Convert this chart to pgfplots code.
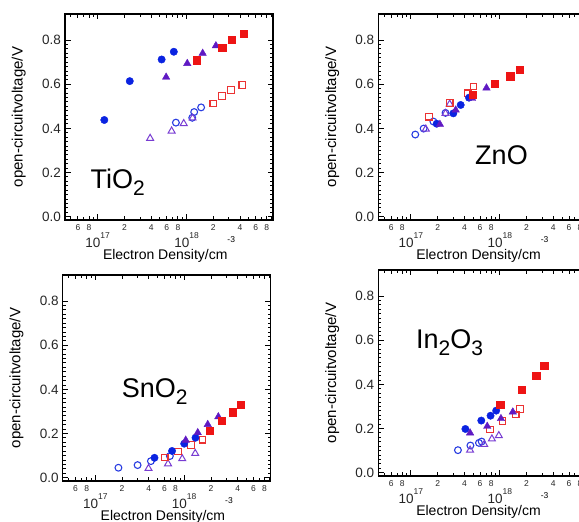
\documentclass[border=0pt]{standalone}
\usepackage{fontspec}
\setmainfont{Liberation Sans}
\usepackage{pgfplots}
\pgfplotsset{compat=1.18}
\definecolor{cBlue}{RGB}{10,35,225}
\definecolor{cBlueO}{RGB}{40,60,225}
\definecolor{cPur}{RGB}{95,25,195}
\definecolor{cPurO}{RGB}{120,60,210}
\definecolor{cRed}{RGB}{238,20,20}
\definecolor{cRedO}{RGB}{235,50,50}
\newcommand\decl[1]{10\raisebox{9pt}{\fontsize{8.5}{8.5}\selectfont #1}}
\newcommand\subs[1]{\raisebox{-7pt}{\fontsize{21}{21}\selectfont #1}}
\tikzset{mybigtext/.style={anchor=base west, font=\fontsize{27}{27}\selectfont, text=black}}
\pgfplotsset{
  scale only axis, width=208pt, height=206pt,
  xmin=4.3e16, xmax=9.4e18, ymin=-0.015, ymax=0.918,
  xtick={1e17,1e18}, xticklabels={\decl{17},\decl{18}},
  minor xtick={5e16,6e16,7e16,8e16,9e16,2e17,3e17,4e17,5e17,6e17,7e17,8e17,9e17,2e18,3e18,4e18,5e18,6e18,7e18,8e18,9e18},
  extra x ticks={6e16,8e16,2e17,4e17,6e17,8e17,2e18,4e18,6e18,8e18},
  extra x tick labels={6,8,2,4,6,8,2,4,6,8},
  extra x tick style={major tick length=4pt, xticklabel style={yshift=17pt, font=\fontsize{8.5}{8.5}\selectfont}},
  ytick={0,0.2,0.4,0.6,0.8}, yticklabels={0.0,0.2,0.4,0.6,0.8},
  minor y tick num=9,
  tick align=inside,
  major tick length=5.5pt, minor tick length=3pt,
  axis line style={line width=1.5pt},
  every tick/.append style={black, line width=0.9pt},
  tick label style={text=black!85},
  yticklabel style={font=\fontsize{13.5}{13.5}\selectfont, anchor=east, inner sep=0pt, xshift=-4pt},
  xticklabel style={font=\fontsize{13.5}{13.5}\selectfont, anchor=base, yshift=-28pt},
  xlabel={Electron Density/cm\raisebox{17pt}{\fontsize{8.5}{8.5}\selectfont -3}},
  ylabel={open-circuitvoltage/V},
  xlabel style={font=\fontsize{14}{14}\selectfont, at={(axis description cs:0.5,0)}, anchor=base, yshift=-40pt},
  ylabel style={font=\fontsize{15}{15}\selectfont, at={(axis description cs:-0.222,0.5)}, anchor=center},
  clip=false,
  myfc/.style={only marks, mark=*, mark size=3.7pt, color=cBlue},
  myoc/.style={only marks, mark=o, mark size=3.4pt, color=cBlueO, mark options={line width=1.1pt}},
  myft/.style={only marks, mark=triangle*, mark size=4.3pt, color=cPur},
  myot/.style={only marks, mark=triangle, mark size=4pt, color=cPurO, mark options={line width=1pt}},
  myfs/.style={only marks, mark=square*, mark size=3.6pt, color=cRed},
  myos/.style={only marks, mark=square, mark size=3.3pt, color=cRedO, mark options={line width=1.1pt}},
}
\begin{document}
\begin{tikzpicture}[x=1pt,y=1pt]
\path[use as bounding box] (0,0) rectangle (579,522);
% TiO2
\begin{axis}[xmode=log, at={(65pt,302pt)}, anchor=south west]
\addplot[myoc] coordinates {(7.6e17,0.426) (1.16e18,0.448) (1.22e18,0.474) (1.46e18,0.495)};
\addplot[myot] coordinates {(3.9e17,0.355) (6.8e17,0.388) (9.3e17,0.422) (1.17e18,0.447)};
\addplot[myos] coordinates {(2.0e18,0.512) (2.5e18,0.546) (3.16e18,0.574) (4.24e18,0.596)};
\addplot[myfc] coordinates {(1.19e17,0.438) (2.3e17,0.614) (5.25e17,0.712) (7.2e17,0.747)};
\addplot[myft] coordinates {(5.9e17,0.632) (1.02e18,0.694) (1.52e18,0.74) (2.14e18,0.774)};
\addplot[myfs] coordinates {(1.3e18,0.709) (2.52e18,0.767) (3.24e18,0.803) (4.38e18,0.827)};
\node[mybigtext] at (rel axis cs:0.106,0.155) {TiO\subs{2}};
\end{axis}
% ZnO
\begin{axis}[xmode=log, at={(378.3pt,302pt)}, anchor=south west]
\addplot[myoc] coordinates {(1.12e17,0.372) (1.39e17,0.399) (1.79e17,0.431) (2.45e17,0.47)};
\addplot[myot] coordinates {(1.47e17,0.397) (2.45e17,0.468) (2.73e17,0.51)};
\addplot[myos] coordinates {(1.6e17,0.453) (2.73e17,0.514) (4.4e17,0.559) (5.05e17,0.589)};
\addplot[myfc] coordinates {(1.95e17,0.421) (3.0e17,0.468) (3.63e17,0.506) (4.5e17,0.539)};
\addplot[myft] coordinates {(2.12e17,0.418) (3.19e17,0.483) (4.87e17,0.536) (7.08e17,0.583)};
\addplot[myfs] coordinates {(4.97e17,0.554) (8.8e17,0.601) (1.31e18,0.636) (1.67e18,0.667)};
\node[mybigtext] at (rel axis cs:0.449,0.267) {ZnO};
\end{axis}
% SnO2
\begin{axis}[xmode=log, at={(62.7pt,41pt)}, anchor=south west]
\addplot[myoc] coordinates {(1.82e17,0.045) (2.99e17,0.057) (4.22e17,0.075) (6.9e17,0.098)};
\addplot[myot] coordinates {(3.97e17,0.042) (6.58e17,0.063) (9.5e17,0.086) (1.33e18,0.11)};
\addplot[myos] coordinates {(6.03e17,0.091) (8.5e17,0.118) (1.2e18,0.148) (1.6e18,0.172)};
\addplot[myfc] coordinates {(4.63e17,0.09) (7.3e17,0.121) (1.0e18,0.154) (1.34e18,0.181)};
\addplot[myft] coordinates {(1.04e18,0.17) (1.42e18,0.204) (1.84e18,0.241) (2.42e18,0.276)};
\addplot[myfs] coordinates {(1.93e18,0.214) (2.65e18,0.257) (3.49e18,0.297) (4.36e18,0.332)};
\node[mybigtext] at (rel axis cs:0.267,0.404) {SnO\subs{2}};
\end{axis}
% In2O3
\begin{axis}[xmode=log, at={(378.3pt,46pt)}, anchor=south west]
\addplot[myoc] coordinates {(3.38e17,0.102) (4.67e17,0.123) (5.83e17,0.135) (6.25e17,0.141)};
\addplot[myot] coordinates {(4.63e17,0.102) (6.68e17,0.128) (8.15e17,0.153) (9.75e17,0.168)};
\addplot[myos] coordinates {(7.72e17,0.195) (1.07e18,0.233) (1.51e18,0.263) (1.69e18,0.288)};
\addplot[myfc] coordinates {(4.1e17,0.198) (6.19e17,0.236) (7.87e17,0.258) (9.1e17,0.281)};
\addplot[myft] coordinates {(4.63e17,0.18) (7.22e17,0.21) (1.03e18,0.245) (1.4e18,0.275)};
\addplot[myfs] coordinates {(1.01e18,0.308) (1.75e18,0.377) (2.57e18,0.438) (3.15e18,0.485)};
\node[mybigtext] at (rel axis cs:0.165,0.62) {In\subs{2}O\subs{3}};
\end{axis}
\end{tikzpicture}
\end{document}
